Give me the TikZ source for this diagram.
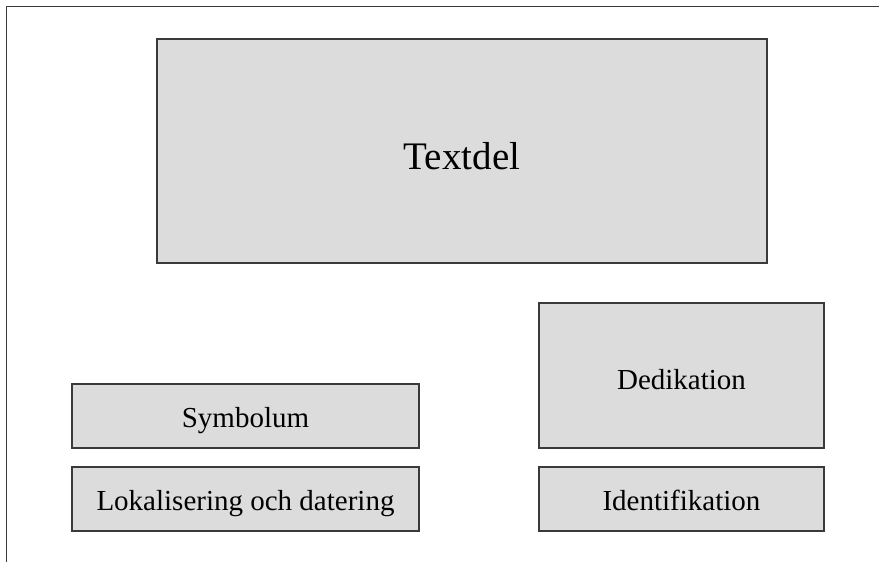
\documentclass[tikz,border=0pt]{standalone}
\usepackage{fontspec}
\setmainfont{Liberation Serif}
\usetikzlibrary{positioning}
\definecolor{boxgray}{HTML}{DCDCDD}
\definecolor{linegray}{HTML}{3A3A3A}

\begin{document}
\begin{tikzpicture}[x=1pt, y=-1pt,
        box_style/.style={rectangle, draw=linegray, fill=boxgray, line width=1.6pt,
          inner sep=0pt, text height=28pt, text depth=6pt,
          font={\fontsize{29}{33}\selectfont}},
        wide_style/.style={minimum width=347pt, minimum height=64pt},
        narrow_style/.style={minimum width=285pt}]

      \useasboundingbox (0,0) rectangle (879,562);
      % frame, open on the right and at the bottom
      \draw[linegray, line width=1.8pt] (879,6.5) -- (6.5,6.5) -- (6.5,562);

      \node[box_style, minimum width=610pt, minimum height=224pt, text height=44pt, text depth=8pt,
        font={\fontsize{39}{43}\selectfont}] (textdel) at (462,151) {Textdel};

      \node[box_style, narrow_style, minimum height=145pt, text height=34pt] (dedikation) at (681.5,375.5) {Dedikation};
      \node[box_style, narrow_style, minimum height=64pt] (identifikation) at (681.5,499) {Identifikation};

      \node[box_style, wide_style] (symbolum) at (245.5,416) {Symbolum};
      \node[box_style, wide_style] (lokalisering) at (245.5,499) {Lokalisering och datering};
    \end{tikzpicture}
\end{document}
